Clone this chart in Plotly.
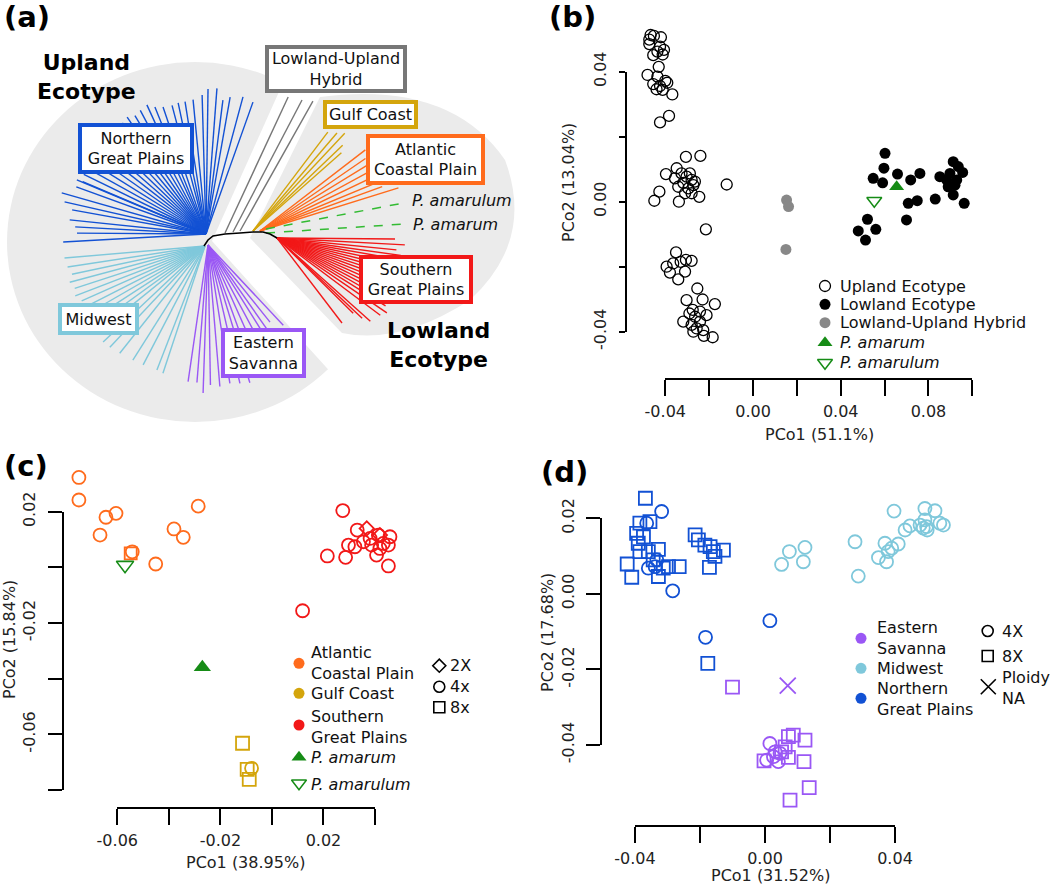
import math
import plotly.graph_objects as go

W, H = 1050, 887
FONT = "DejaVu Sans"

# ---------------- Panel (a): tree data (angle in degrees, branch length in px) ----------------
ngp_angles = [70.4, 74.9, 80.0, 82.8, 85.7, 89.2, 91.6, 95.5, 99.0, 102.0, 104.8, 108.7, 111.9, 114.6,
              118, 121, 124, 127, 130, 133, 136, 139, 142, 145, 148, 151, 154,
              157.0, 157.3, 160, 164.1, 167.2, 169.8, 174.1, 176.9, 179.6, 183.2]
ngp_lengths = [140, 142, 139, 135, 146, 145, 139, 135, 134, 134, 133, 134, 137, 142,
               140, 138, 141, 139, 142, 140, 138, 141, 139, 140, 138, 137, 136,
               134, 140, 138, 150, 145, 136, 137, 131, 129, 143]
mw_angles = [184.9, 188.7, 192, 195, 198, 201, 204, 207, 210, 213, 216, 219, 223.3, 226.8, 231.5, 237.7,
             242.5, 248.8, 251.7]
mw_lengths = [141, 139, 136, 140, 137, 139, 135, 138, 136, 139, 137, 136, 140, 139, 137, 135, 134, 133, 134]
es_angles = [261.7, 265.4, 268.1, 271, 274.8, 279.0, 283.0, 286.9, 290, 294, 298, 302, 305, 308.8, 313.2]
es_lengths = [138, 138, 148, 140, 142, 140, 142, 144, 138, 134, 128, 118, 110, 99, 110]
hyb_angles = [65.1, 62.4, 60.7]
hyb_lengths = [150, 149, 149]
gulf_angles = [52.9, 49.4, 46.8, 43.7, 41.5]
gulf_lengths = [124, 129, 134, 124, 118]
acp_angles = [37.6, 34.5, 31.5, 28.5, 25.5, 22.5, 20.0, 17.3]
acp_lengths = [133, 128, 135, 138, 140, 142, 130, 145]
amarulum_angle, amarulum_length = 10.7, 139
amarum_angle, amarum_length = 3.7, 140
sgp_angles = [-0.5, -3.1, -5.7, -8, -10, -12, -14, -16, -18, -20, -22, -24, -26, -28, -30, -32,
              -34.3, -36.8, -41.7, -43.3, -44.6, -52.6]
sgp_lengths = [118, 128, 120, 125, 123, 127, 122, 126, 124, 128, 125, 127, 129, 126, 131, 128,
               133, 129, 125, 117, 107, 107]
backbone_x = [204, 208, 213, 225, 240, 253, 263, 270, 277]
backbone_y = [246, 240, 236, 234, 233, 232, 232, 234, 238]

# ---------------- Panel (b) data ----------------
b_upland_x = [-0.0467, -0.0473, -0.0452, -0.0420, -0.0473, -0.0424, -0.0406, -0.0436, -0.0455, -0.0412,
              -0.0430, -0.0481, -0.0436, -0.0400, -0.0455, -0.0424, -0.0391, -0.0440, -0.0412, -0.0368,
              -0.0383, -0.0424,
              -0.0306, -0.0240, -0.0348, -0.0397, -0.0356, -0.0326, -0.0303, -0.0280, -0.0318, -0.0272,
              -0.0341, -0.0295, -0.0427, -0.0310, -0.0280, -0.0245, -0.0450, -0.0338, -0.0120, -0.0215,
              -0.0288, -0.0265,
              -0.0351, -0.0394, -0.0364, -0.0330, -0.0306, -0.0280, -0.0379, -0.0341, -0.0310, -0.0254,
              -0.0303, -0.0230, -0.0174, -0.0275, -0.0242, -0.0212, -0.0264, -0.0318, -0.0242, -0.0280,
              -0.0257, -0.0227, -0.0272, -0.0224, -0.0184, -0.0290]
b_upland_y = [0.0513, 0.0499, 0.0510, 0.0506, 0.0485, 0.0477, 0.0467, 0.0462, 0.0451, 0.0453,
              0.0415, 0.0390, 0.0385, 0.0372, 0.0362, 0.0356, 0.0366, 0.0346, 0.0344, 0.0330,
              0.0264, 0.0244,
              0.0138, 0.0141, 0.0103, 0.0085, 0.0072, 0.0087, 0.0077, 0.0067, 0.0058, 0.0051,
              0.0046, 0.0041, 0.0031, 0.0026, 0.0026, 0.0015, 0.0003, 0.0000, 0.0053, -0.0085,
              0.0087, 0.0062,
              -0.0156, -0.0200, -0.0190, -0.0185, -0.0179, -0.0182, -0.0218, -0.0239, -0.0215, -0.0267,
              -0.0303, -0.0301, -0.0315, -0.0333, -0.0338, -0.0349, -0.0354, -0.0369, -0.0369, -0.0379,
              -0.0390, -0.0395, -0.0400, -0.0413, -0.0417, -0.0344]
b_lowland_x = [0.0602, 0.0597, 0.0548, 0.0591, 0.0659, 0.0719, 0.0761, 0.0708, 0.0749, 0.0831,
               0.0852, 0.0883, 0.0913, 0.0936, 0.0956, 0.0898, 0.0921, 0.0890, 0.0929, 0.0913,
               0.0963, 0.0700, 0.0522, 0.0480, 0.0560, 0.0513]
b_lowland_y = [0.0149, 0.0103, 0.0072, 0.0058, 0.0085, 0.0067, 0.0087, -0.0005, 0.0003, 0.0008,
               0.0077, 0.0067, 0.0123, 0.0108, 0.0090, 0.0087, 0.0051, 0.0046, 0.0067, 0.0021,
               -0.0005, -0.0056, -0.0054, -0.0090, -0.0085, -0.0118]
b_hybrid_x = [0.0153, 0.0162, 0.0150]
b_hybrid_y = [0.0005, -0.0015, -0.0147]
b_amarum_x, b_amarum_y = [0.0655], [0.0046]
b_amarulum_x, b_amarulum_y = [0.0553], [0.0003]
b_xticks = [-0.04, -0.02, 0.00, 0.02, 0.04, 0.06, 0.08, 0.10]
b_xticktext = ["-0.04", "", "0.00", "", "0.04", "", "0.08", ""]
b_yticks = [-0.04, -0.02, 0.00, 0.02, 0.04]
b_yticktext = ["-0.04", "", "0.00", "", "0.04"]

# ---------------- Panel (c) data ----------------
c_acp_circ_x = [-0.0749, -0.0749, -0.0644, -0.0605, -0.0667, -0.0380, -0.0344, -0.0286, -0.0451, -0.0542]
c_acp_circ_y = [0.0323, 0.0242, 0.0180, 0.0194, 0.0116, 0.0138, 0.0108, 0.0220, 0.0012, 0.0056]
c_acp_sq_x, c_acp_sq_y = [-0.0548], [0.0050]
c_gulf_sq_x = [-0.0114, -0.0096, -0.0088]
c_gulf_sq_y = [-0.0632, -0.0726, -0.0762]
c_gulf_circ_x, c_gulf_circ_y = [-0.0079], [-0.0722]
c_sgp_circ_x = [0.0275, 0.0331, 0.0381, 0.0413, 0.0458, 0.0432, 0.0452, 0.0297, 0.0322, 0.0355,
                0.0406, 0.0286, 0.0215, 0.0452, 0.0387, 0.0419, 0.0119]
c_sgp_circ_y = [0.0204, 0.0134, 0.0104, 0.0116, 0.0110, 0.0086, 0.0080, 0.0080, 0.0074, 0.0092,
                0.0044, 0.0036, 0.0041, 0.0005, 0.0080, 0.0068, -0.0156]
c_sgp_dia_x = [0.0368, 0.0419]
c_sgp_dia_y = [0.0140, 0.0116]
c_amarum_x, c_amarum_y = [-0.0270], [-0.0359]
c_amarulum_x, c_amarulum_y = [-0.0570], [0.0008]
c_xticks = [-0.06, -0.04, -0.02, 0.00, 0.02, 0.04]
c_xticktext = ["-0.06", "", "-0.02", "", "0.02", ""]
c_yticks = [-0.08, -0.06, -0.04, -0.02, 0.00, 0.02]
c_yticktext = ["", "-0.06", "", "-0.02", "", "0.02"]

# ---------------- Panel (d) data ----------------
d_ngp_sq_x = [-0.0368, -0.0385, -0.0354, -0.0395, -0.0374, -0.0390, -0.0385, -0.0359, -0.0328, -0.0424,
              -0.0410, -0.0328, -0.0344, -0.0297, -0.0264, -0.0215, -0.0205, -0.0185, -0.0169, -0.0159,
              -0.0128, -0.0154, -0.0171, -0.0313, -0.0176]
d_ngp_sq_y = [0.0253, 0.0187, 0.0191, 0.0160, 0.0151, 0.0134, 0.0112, 0.0112, 0.0118, 0.0079,
              0.0044, 0.0046, 0.0090, 0.0072, 0.0072, 0.0156, 0.0143, 0.0129, 0.0125, 0.0112,
              0.0116, 0.0099, 0.0070, 0.0068, -0.0184]
d_ngp_circ_x = [-0.0318, -0.0364, -0.0333, -0.0359, -0.0338, -0.0284, -0.0183, 0.0015]
d_ngp_circ_y = [0.0218, 0.0187, 0.0090, 0.0068, 0.0072, 0.0008, -0.0115, -0.0071]
d_mw_x = [0.0051, 0.0075, 0.0123, 0.0118, 0.0277, 0.0287, 0.0397, 0.0349, 0.0374, 0.0379, 0.0369, 0.0390,
          0.0410, 0.0431, 0.0446, 0.0477, 0.0487, 0.0497, 0.0492, 0.0523, 0.0538, 0.0549, 0.0492, 0.0499]
d_mw_y = [0.0078, 0.0112, 0.0123, 0.0085, 0.0138, 0.0047, 0.0219, 0.0096, 0.0085, 0.0112, 0.0134, 0.0121,
          0.0132, 0.0169, 0.0180, 0.0182, 0.0174, 0.0178, 0.0226, 0.0220, 0.0187, 0.0182, 0.0196, 0.0169]
d_es_sq_x = [-0.0100, 0.0072, 0.0087, 0.0123, -0.0003, 0.0072, 0.0120, 0.0136, 0.0077, 0.0062, 0.0051]
d_es_sq_y = [-0.0247, -0.0378, -0.0374, -0.0387, -0.0442, -0.0433, -0.0444, -0.0513, -0.0546, -0.0405, -0.0418]
d_es_circ_x = [0.0015, 0.0005, 0.0031, 0.0041, 0.0046, 0.0026]
d_es_circ_y = [-0.0396, -0.0440, -0.0418, -0.0444, -0.0422, -0.0431]
d_es_na_x, d_es_na_y = [0.0070], [-0.0243]
d_xticks = [-0.04, -0.02, 0.00, 0.02, 0.04]
d_xticktext = ["-0.04", "", "0.00", "", "0.04"]
d_yticks = [-0.04, -0.02, 0.00, 0.02]
d_yticktext = ["-0.04", "-0.02", "0.00", "0.02"]

# ---------------- colours ----------------
C_NGP = "#1251d4"
C_MW = "#7fc8db"
C_ES = "#9a57f5"
C_HYB = "#777777"
C_GULF = "#d4a50c"
C_ACP = "#ff6b1c"
C_SGP = "#f21818"
C_GREEN = "#168c16"
C_DASH = "#33bb33"
C_SHADE = "#ebebeb"

# ---------------- panel geometry (pixels) ----------------
B_X = dict(px0=665.3, px1=972.3, line=379)
B_Y = dict(px0=331.7, px1=71.7, line=625.7)
C_X = dict(px0=117.3, px1=375.0, line=807.7)
C_Y = dict(px0=790.0, px1=511.7, line=62.7)
D_X = dict(px0=635.0, px1=895.0, line=825.7)
D_Y = dict(px0=745.0, px1=518.3, line=601.0)

fig = go.Figure()


def fx(px):
    return px / W


def fy(py):
    return 1 - py / H


def tree_segments(rx, ry, angles, lengths):
    xs, ys = [], []
    for a, L in zip(angles, lengths):
        t = math.radians(a)
        xs += [rx, rx + L * math.cos(t), None]
        ys += [ry, ry - L * math.sin(t), None]
    return xs, ys


def add_tree(rx, ry, angles, lengths, color, dash="solid", width=1.4):
    xs, ys = tree_segments(rx, ry, angles, lengths)
    fig.add_trace(go.Scatter(x=xs, y=ys, mode="lines", xaxis="x5", yaxis="y5",
                             line=dict(color=color, width=width, dash=dash),
                             hoverinfo="skip", showlegend=False))


# tree clades
add_tree(206, 234, ngp_angles, ngp_lengths, C_NGP)
add_tree(205, 246, mw_angles, mw_lengths, C_MW)
add_tree(208, 245, es_angles, es_lengths, C_ES)
for i, (a, L) in enumerate(zip(hyb_angles, hyb_lengths)):
    add_tree([225, 233, 240][i], [233, 232, 231][i], [a], [L], C_HYB)
add_tree(253, 231, gulf_angles, gulf_lengths, C_GULF)
add_tree(260, 231, acp_angles, acp_lengths, C_ACP)
add_tree(266, 229, [amarulum_angle], [amarulum_length], C_DASH, dash="dash", width=1.5)
add_tree(266, 233, [amarum_angle], [amarum_length], C_DASH, dash="dash", width=1.5)
add_tree(277, 238, sgp_angles, sgp_lengths, C_SGP)
fig.add_trace(go.Scatter(x=backbone_x, y=backbone_y, mode="lines", xaxis="x5", yaxis="y5",
                         line=dict(color="black", width=1.6), hoverinfo="skip", showlegend=False))


def pts(x, y, ax, symbol, color, size, lw=1.6, fill=None):
    fig.add_trace(go.Scatter(
        x=x, y=y, mode="markers", xaxis=ax[0], yaxis=ax[1], cliponaxis=False,
        marker=dict(symbol=symbol, size=size, color=fill if fill else color,
                    line=dict(color=color, width=lw)),
        hoverinfo="skip", showlegend=False))


# empty traces so the decorative axis pairs are drawn
for xa, ya in [("x", "y"), ("x2", "y2"), ("x3", "y3")]:
    fig.add_trace(go.Scatter(x=[], y=[], xaxis=xa, yaxis=ya, showlegend=False, hoverinfo="skip"))

# panel b (data axes x6/y6)
AB = ("x6", "y6")
pts(b_upland_x, b_upland_y, AB, "circle-open", "black", 11, 1.3)
pts(b_lowland_x, b_lowland_y, AB, "circle", "black", 11, 0)
pts(b_hybrid_x, b_hybrid_y, AB, "circle", "#888888", 11, 0)
pts(b_amarulum_x, b_amarulum_y, AB, "triangle-down-open", C_GREEN, 13, 1.5)
pts(b_amarum_x, b_amarum_y, AB, "triangle-up", C_GREEN, 13, 0)

# panel c (data axes x7/y7)
AC = ("x7", "y7")
pts(c_acp_circ_x, c_acp_circ_y, AC, "circle-open", C_ACP, 13, 1.8)
pts(c_acp_sq_x, c_acp_sq_y, AC, "square-open", C_ACP, 12, 1.8)
pts(c_sgp_circ_x, c_sgp_circ_y, AC, "circle-open", C_SGP, 13, 1.8)
pts(c_sgp_dia_x, c_sgp_dia_y, AC, "diamond-open", C_SGP, 11, 1.8)
pts(c_gulf_sq_x, c_gulf_sq_y, AC, "square-open", C_GULF, 13, 1.8)
pts(c_gulf_circ_x, c_gulf_circ_y, AC, "circle-open", C_GULF, 13, 1.8)
pts(c_amarulum_x, c_amarulum_y, AC, "triangle-down-open", C_GREEN, 15, 1.6)
pts(c_amarum_x, c_amarum_y, AC, "triangle-up", C_GREEN, 15, 0)

# panel d (data axes x8/y8)
AD = ("x8", "y8")
pts(d_ngp_sq_x, d_ngp_sq_y, AD, "square-open", C_NGP, 13, 1.8)
pts(d_ngp_circ_x, d_ngp_circ_y, AD, "circle-open", C_NGP, 13, 1.8)
pts(d_mw_x, d_mw_y, AD, "circle-open", C_MW, 13, 1.8)
pts(d_es_sq_x, d_es_sq_y, AD, "square-open", C_ES, 13, 1.8)
pts(d_es_circ_x, d_es_circ_y, AD, "circle-open", C_ES, 13, 1.8)
pts(d_es_na_x, d_es_na_y, AD, "x-thin-open", C_ES, 16, 1.8)

# ---------------- legends (symbol keys on pixel overlay axis) ----------------
AP = ("x5", "y5")
pts([825], [286], AP, "circle-open", "black", 11, 1.3)
pts([825], [304.3], AP, "circle", "black", 11, 0)
pts([825], [322.7], AP, "circle", "#888888", 11, 0)
pts([825], [342.7], AP, "triangle-up", C_GREEN, 13, 0)
pts([825], [362.7], AP, "triangle-down-open", C_GREEN, 13, 1.5)

pts([299], [663.3], AP, "circle", C_ACP, 11, 0)
pts([299], [693.3], AP, "circle", C_GULF, 11, 0)
pts([299], [725], AP, "circle", C_SGP, 11, 0)
pts([299], [757.3], AP, "triangle-up", C_GREEN, 13, 0)
pts([299], [783.3], AP, "triangle-down-open", C_GREEN, 13, 1.5)
pts([439.3], [665.7], AP, "diamond-open", "black", 10, 1.6)
pts([439.3], [686.7], AP, "circle-open", "black", 11, 1.6)
pts([439.3], [707.3], AP, "square-open", "black", 11, 1.6)

pts([861], [638.3], AP, "circle", C_ES, 11, 0)
pts([861], [668.3], AP, "circle", C_MW, 11, 0)
pts([861], [698.3], AP, "circle", C_NGP, 11, 0)
pts([987.7], [631], AP, "circle-open", "black", 11, 1.6)
pts([987.7], [656], AP, "square-open", "black", 11, 1.6)
pts([988.3], [686.7], AP, "x-thin-open", "black", 15, 1.6)

annotations = []


def text(x, y, s, size=16, xanchor="left", color="#111", angle=0, **kw):
    d = dict(x=x, y=y, xref="x5", yref="y5", text=s, showarrow=False, xanchor=xanchor,
             yanchor="middle", textangle=angle,
             font=dict(family=FONT, size=size, color=color), align="center" if xanchor == "center" else "left")
    d.update(kw)
    annotations.append(d)


def boxlabel(x0, y0, x1, y1, s, color):
    bw = 4
    annotations.append(dict(x=(x0 + x1) / 2, y=(y0 + y1) / 2, xref="x5", yref="y5", text=s,
                            showarrow=False, xanchor="center", yanchor="middle", align="center",
                            width=(x1 - x0) - 2 * bw, height=(y1 - y0) - 2 * bw,
                            bordercolor=color, borderwidth=bw, borderpad=0, bgcolor="white",
                            font=dict(family=FONT, size=16, color="#111")))


# panel letters
for lab, x, y in [("(a)", 2, 17), ("(b)", 547, 17), ("(c)", 2, 466), ("(d)", 539, 472)]:
    text(x, y, "<b>%s</b>" % lab, size=29, color="black")

# panel a labels
text(86, 77, "<b>Upland<br>Ecotype</b>", size=22, xanchor="center", color="black")
text(438, 345, "<b>Lowland<br>Ecotype</b>", size=22, xanchor="center", color="black")
boxlabel(265, 45, 407, 93, "Lowland-Upland<br>Hybrid", C_HYB)
boxlabel(323, 100, 418, 129, "Gulf Coast", C_GULF)
boxlabel(366, 134, 485, 185, "Atlantic<br>Coastal Plain", C_ACP)
boxlabel(359, 255, 473, 304, "Southern<br>Great Plains", C_SGP)
boxlabel(78, 123, 194, 174, "Northern<br>Great Plains", C_NGP)
boxlabel(58, 303, 139, 335, "Midwest", C_MW)
boxlabel(221, 328, 306, 378, "Eastern<br>Savanna", C_ES)
text(410, 200, "<i>P. amarulum</i>")
text(411, 224, "<i>P. amarum</i>")

# panel b legend & titles
for s, y in [("Upland Ecotype", 286), ("Lowland Ecotype", 304.3), ("Lowland-Upland Hybrid", 322.7),
             ("<i>P. amarum</i>", 342.7), ("<i>P. amarulum</i>", 362.7)]:
    text(838, y, s)
text(819, 434, "PCo1 (51.1%)", xanchor="center", color="#222")
text(568, 183, "PCo2 (13.04%)", xanchor="center", color="#222", angle=-90)

# panel c legend & titles
text(309, 663, "Atlantic<br>Coastal Plain")
text(309, 693.3, "Gulf Coast")
text(309, 727, "Southern<br>Great Plains")
text(309, 757, "<i>P. amarum</i>")
text(309, 784, "<i>P. amarulum</i>")
text(448, 665.7, "2X")
text(448, 686.7, "4x")
text(448, 707.3, "8x")
text(245, 862.7, "PCo1 (38.95%)", xanchor="center", color="#222")
text(9, 640, "PCo2 (15.84%)", xanchor="center", color="#222", angle=-90)

# panel d legend & titles
text(875, 637.7, "Eastern<br>Savanna")
text(875, 668.3, "Midwest")
text(875, 699, "Northern<br>Great Plains")
text(1000, 631, "4X")
text(1000, 656, "8X")
text(1000, 688, "Ploidy<br>NA")
text(770, 875.5, "PCo1 (31.52%)", xanchor="center", color="#222")
text(547, 633, "PCo2 (17.68%)", xanchor="center", color="#222", angle=-90)


def deco_x(ticks, ttext, g, ticklen=16):
    return dict(domain=[fx(g["px0"]), fx(g["px1"])], range=[ticks[0], ticks[-1]], anchor="free",
                position=fy(g["line"]), showline=True, linecolor="black", linewidth=2,
                ticks="outside", ticklen=ticklen, tickwidth=2, tickcolor="black",
                tickmode="array", tickvals=ticks, ticktext=ttext, showgrid=False, zeroline=False,
                tickfont=dict(family=FONT, size=16, color="#222"), ticklabelstandoff=2,
                automargin=False, fixedrange=True)


def deco_y(ticks, ttext, g, ticklen=14):
    return dict(domain=[fy(g["px0"]), fy(g["px1"])], range=[ticks[0], ticks[-1]], anchor="free",
                position=fx(g["line"]), showline=True, linecolor="black", linewidth=2,
                ticks="outside", ticklen=ticklen, tickwidth=2, tickcolor="black",
                tickmode="array", tickvals=ticks, ticktext=ttext, showgrid=False, zeroline=False,
                tickangle=-90, tickfont=dict(family=FONT, size=16, color="#222"),
                ticklabelstandoff=6, automargin=False, fixedrange=True)


def data_x(ticks, g, anchor):
    # full-width invisible axis sharing the scale of the decorative axis
    k = (ticks[-1] - ticks[0]) / (g["px1"] - g["px0"])
    return dict(domain=[0, 1], range=[ticks[0] + (0 - g["px0"]) * k, ticks[0] + (W - g["px0"]) * k],
                visible=False, anchor=anchor, fixedrange=True, automargin=False)


def data_y(ticks, g, anchor):
    k = (ticks[-1] - ticks[0]) / (g["px1"] - g["px0"])
    return dict(domain=[0, 1], range=[ticks[0] + (H - g["px0"]) * k, ticks[0] + (0 - g["px0"]) * k],
                visible=False, anchor=anchor, fixedrange=True, automargin=False)


# ---------------- background shading for tree (ecotype groups) ----------------
shapes = [
    # upland ecotype disc
    dict(type="circle", xref="x5", yref="y5", x0=7, x1=383, y0=62, y1=422,
         fillcolor=C_SHADE, line=dict(width=0), layer="below"),
    # white gap separating the ecotypes
    dict(type="path", xref="x5", yref="y5",
         path="M 212 241 L 300 45 L 430 45 L 430 430 L 383 430 Z",
         fillcolor="white", line=dict(width=0), layer="below"),
    # lowland ecotype region
    dict(type="path", xref="x5", yref="y5",
         path="M 250 238 L 320 97 Q 450 80 505 160 Q 535 240 470 300 Q 400 345 342 333 Z",
         fillcolor=C_SHADE, line=dict(width=0), layer="below"),
]

fig.update_layout(
    width=W, height=H, margin=dict(l=0, r=0, t=0, b=0, pad=0, autoexpand=False),
    paper_bgcolor="white", plot_bgcolor="rgba(0,0,0,0)", showlegend=False,
    font=dict(family=FONT, size=16, color="#111"),
    xaxis=deco_x(b_xticks, b_xticktext, B_X),
    yaxis=deco_y(b_yticks, b_yticktext, B_Y, ticklen=6),
    xaxis2=deco_x(c_xticks, c_xticktext, C_X),
    yaxis2=deco_y(c_yticks, c_yticktext, C_Y),
    xaxis3=deco_x(d_xticks, d_xticktext, D_X),
    yaxis3=deco_y(d_yticks, d_yticktext, D_Y),
    xaxis5=dict(domain=[0, 1], range=[0, W], visible=False, anchor="y5", fixedrange=True, automargin=False),
    yaxis5=dict(domain=[0, 1], range=[H, 0], visible=False, anchor="x5", fixedrange=True, automargin=False),
    xaxis6=data_x(b_xticks, B_X, "y6"), yaxis6=data_y(b_yticks, B_Y, "x6"),
    xaxis7=data_x(c_xticks, C_X, "y7"), yaxis7=data_y(c_yticks, C_Y, "x7"),
    xaxis8=data_x(d_xticks, D_X, "y8"), yaxis8=data_y(d_yticks, D_Y, "x8"),
    annotations=annotations, shapes=shapes,
)

fig.write_html("out.html", config={"displayModeBar": False, "staticPlot": True},
               post_script="document.body.style.margin='0px';document.body.style.overflow='hidden';")
